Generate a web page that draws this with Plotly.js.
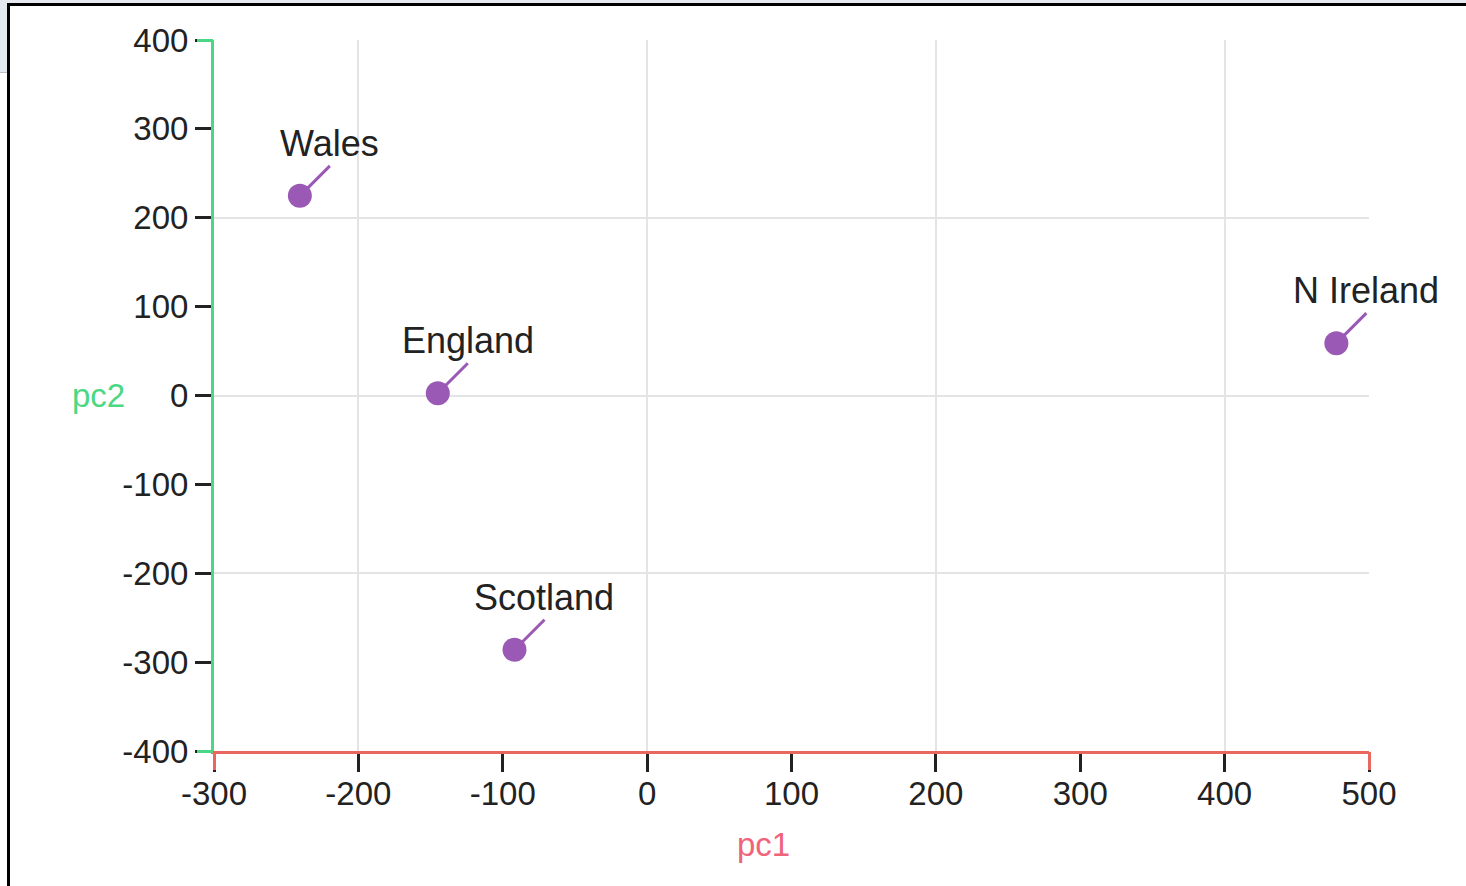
<!DOCTYPE html>
<html>
<head>
<meta charset="utf-8">
<script src="https://cdn.plot.ly/plotly-3.0.1.min.js"></script>
<style>
  html, body { margin: 0; padding: 0; width: 1466px; height: 886px; overflow: hidden; background: #ffffff; }
  #topstrip { position: absolute; left: 0; top: 0; width: 1466px; height: 4px; background: #e6e9ef; }
  #leftstrip { position: absolute; left: 0; top: 0; width: 8px; height: 72px; background: #e4e8f0; border-bottom: 1px solid #b8bcc4; }
  #frame { position: absolute; left: 7px; top: 3px; width: 1470px; height: 890px; border-left: 3px solid #000; border-top: 3px solid #000; background: #fff; }
  #chart { position: absolute; left: 0; top: 0; width: 1466px; height: 886px; }
</style>
</head>
<body>
<div id="topstrip"></div>
<div id="leftstrip"></div>
<div id="frame"></div>
<div id="chart"></div>
<script>
// ---- data ----
const countries = ['England', 'N Ireland', 'Scotland', 'Wales'];
const pc1 = [-144.99, 477.39, -91.87, -240.53];
const pc2 = [2.53, 58.90, -286.08, 224.65];

const xTicks = [-300, -200, -100, 0, 100, 200, 300, 400, 500];
const yTicks = [-400, -300, -200, -100, 0, 100, 200, 300, 400];
const xGrid = [-200, 0, 200, 400];
const yGrid = [-400, -200, 0, 200, 400];
const xRange = [-300, 500];
const yRange = [-400, 400];
const xAxisName = 'pc1';
const yAxisName = 'pc2';

// ---- styles ----
const purple = '#9b59b6';
const red = '#e8675e';
const green = '#4cd784';
const font = 'Liberation Sans, Arial, sans-serif';
const tickFont = { family: font, size: 33, color: '#222' };

const traces = [
  { x: [], y: [], xaxis: 'x2', yaxis: 'y2', type: 'scatter', mode: 'markers', hoverinfo: 'skip', showlegend: false },
  { x: [], y: [], xaxis: 'x3', yaxis: 'y3', type: 'scatter', mode: 'markers', hoverinfo: 'skip', showlegend: false },
  {
    x: pc1, y: pc2, text: countries, type: 'scatter', mode: 'markers',
    marker: { size: 24, color: purple },
    hoverinfo: 'text', showlegend: false
  }
];

const annotations = countries.map((c, i) => ({
  x: pc1[i], y: pc2[i], xref: 'x', yref: 'y',
  text: c, showarrow: true, arrowhead: 0, arrowwidth: 3, arrowcolor: purple,
  ax: 30, ay: -30, standoff: 0, startstandoff: 0,
  xanchor: 'center', yanchor: 'bottom',
  font: { family: font, size: 36, color: '#222' }
}));
annotations.push({
  xref: 'paper', yref: 'paper', x: -0.1003, y: 0.5, showarrow: false,
  text: yAxisName, xanchor: 'center', yanchor: 'middle',
  font: { family: font, size: 33, color: green }
});
annotations.push({
  xref: 'paper', yref: 'paper', x: 0.4758, y: -0.132, showarrow: false,
  text: xAxisName, xanchor: 'center', yanchor: 'middle',
  font: { family: font, size: 33, color: '#f0647a' }
});

const layout = {
  width: 1466, height: 886,
  margin: { l: 214, r: 97, t: 40, b: 135, pad: 0 },
  paper_bgcolor: 'rgba(0,0,0,0)',
  plot_bgcolor: 'rgba(0,0,0,0)',
  font: { family: font },
  xaxis: {
    range: xRange, tickmode: 'array', tickvals: xTicks, ticktext: xTicks.map(String),
    ticks: 'outside', ticklen: 18, tickwidth: 3, tickcolor: '#222', ticklabelstandoff: -7,
    showline: true, linecolor: red, linewidth: 3,
    showgrid: false, zeroline: false, tickfont: tickFont, fixedrange: true
  },
  yaxis: {
    range: yRange, tickmode: 'array', tickvals: yTicks, ticktext: yTicks.map(String),
    ticks: 'outside', ticklen: 16, tickwidth: 3, tickcolor: '#222',
    showline: true, linecolor: green, linewidth: 3,
    showgrid: false, zeroline: false, tickfont: tickFont, fixedrange: true
  },
  xaxis2: {
    overlaying: 'x', anchor: 'y2', range: xRange, tickmode: 'array', tickvals: xGrid,
    showgrid: true, gridcolor: '#e4e4e4', gridwidth: 2, ticks: '', showticklabels: false,
    showline: false, zeroline: false, fixedrange: true
  },
  yaxis2: {
    overlaying: 'y', anchor: 'x2', range: yRange, tickmode: 'array', tickvals: yGrid,
    showgrid: true, gridcolor: '#e4e4e4', gridwidth: 2, ticks: '', showticklabels: false,
    showline: false, zeroline: false, fixedrange: true
  },
  xaxis3: {
    overlaying: 'x', anchor: 'y3', side: 'bottom', range: xRange, tickmode: 'array', tickvals: xRange,
    ticks: 'outside', ticklen: 18, tickwidth: 3, tickcolor: red, showticklabels: false,
    showgrid: false, showline: false, zeroline: false, fixedrange: true
  },
  yaxis3: {
    overlaying: 'y', anchor: 'x3', side: 'left', range: yRange, tickmode: 'array', tickvals: yRange,
    ticks: 'outside', ticklen: 16, tickwidth: 3, tickcolor: green, showticklabels: false,
    showgrid: false, showline: false, zeroline: false, fixedrange: true
  },
  annotations: annotations
};

Plotly.newPlot('chart', traces, layout, { displayModeBar: false, staticPlot: true });
</script>
</body>
</html>
